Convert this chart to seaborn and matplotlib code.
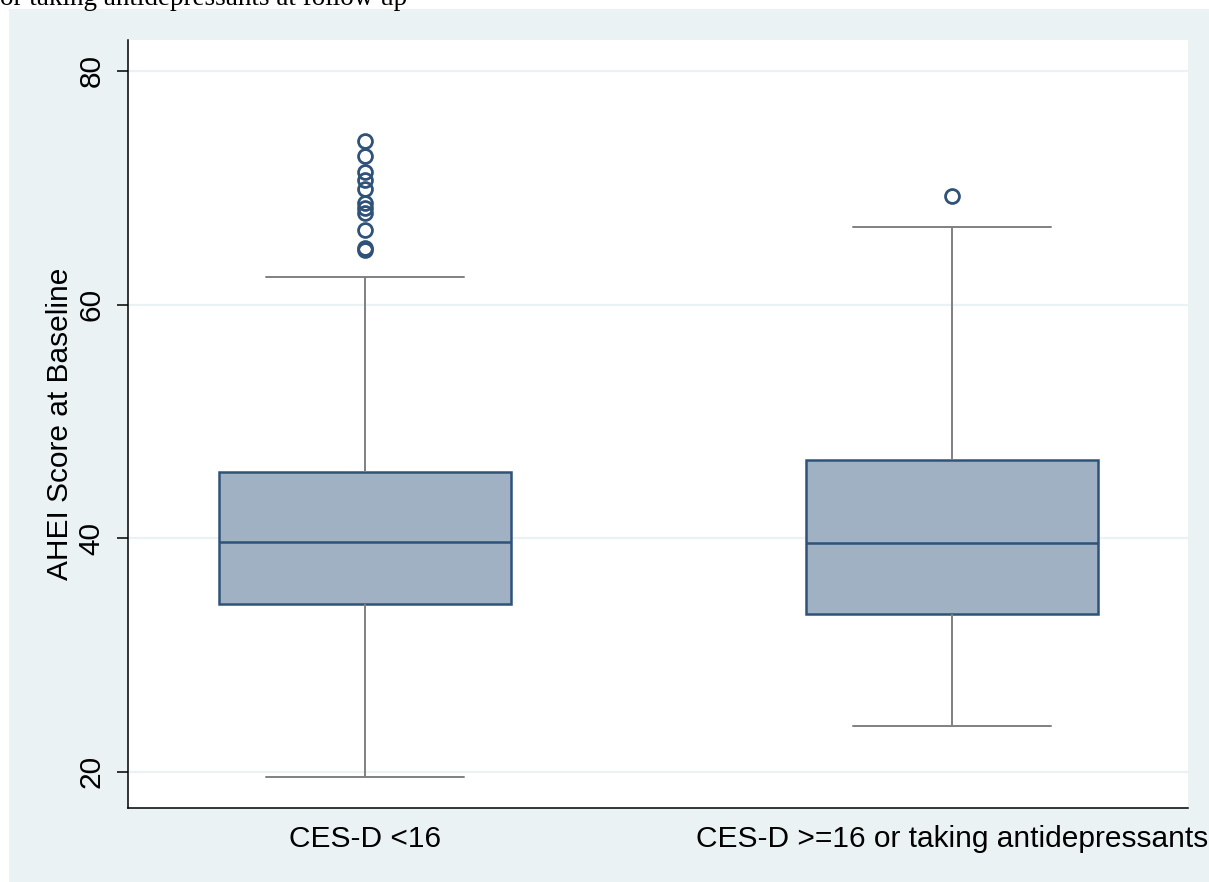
import numpy as np
import pandas as pd
import matplotlib
matplotlib.use("Agg")
import matplotlib.pyplot as plt
from matplotlib.patches import Rectangle
import seaborn as sns

# Groups and five-number summaries of the AHEI score
groups = ["CES-D <16", "CES-D >=16 or taking antidepressants"]
whisker_low = [19.57, 23.94]
q1 = [34.38, 33.53]
median = [39.69, 39.61]
q3 = [45.68, 46.71]
whisker_high = [62.38, 66.66]
outliers = [
    [74.02, 72.74, 71.37, 70.68, 69.91, 68.72, 68.29, 67.86, 66.40, 64.86, 64.69],
    [69.32],
]
y_ticks = [20, 40, 60, 80]
y_label = "AHEI Score at Baseline"
note = "or taking antidepressants at follow up"

# Long table whose quartiles and adjacent values reproduce each summary
rows = []
for g, lo, a, m, b, hi, out in zip(groups, whisker_low, q1, median, q3, whisker_high, outliers):
    vals = [lo] + [a] * 20 + [m] * 20 + [b] * 20 + [hi] + list(out)
    rows += [(g, v) for v in vals]
df = pd.DataFrame(rows, columns=["group", "ahei"])

sns.set_theme(style="white")
plt.rcParams["font.family"] = ["Liberation Sans", "DejaVu Sans"]
plt.rcParams["text.color"] = "black"
plt.rcParams["axes.labelcolor"] = "black"
plt.rcParams["xtick.color"] = "black"
plt.rcParams["ytick.color"] = "black"

navy = "#2F5279"
fill = "#A0B1C3"
grey = "#808080"
bg = "#EAF2F3"

fig = plt.figure(figsize=(12.09, 8.82), dpi=100)
fig.patch.set_facecolor("white")
W, H = 1209, 882
fig.patches.append(Rectangle((9 / W, 0), 1 - 9 / W, 1 - 9 / H, transform=fig.transFigure,
                             facecolor=bg, edgecolor="none", zorder=-10))
fig.text(0, 1 - 5 / H, note, family="Liberation Serif", fontsize=19.5, va="baseline", ha="left")

ax = fig.add_axes([128 / W, 74 / H, 1060 / W, 768 / H])
ax.set_facecolor("white")
for v in y_ticks:
    ax.axhline(v, color=bg, lw=1.6, zorder=0)

sns.boxplot(
    data=df, x="group", y="ahei", order=groups, ax=ax, width=0.497, whis=1.6,
    capwidths=0.337,
    boxprops=dict(facecolor=fill, edgecolor=navy, linewidth=1.8),
    medianprops=dict(color=navy, linewidth=1.8),
    whiskerprops=dict(color=grey, linewidth=1.4),
    capprops=dict(color=grey, linewidth=1.4),
    flierprops=dict(marker="o", markerfacecolor="none", markeredgecolor=navy,
                    markeredgewidth=2, markersize=10),
)

ax.set_xlim(-0.404, 1.402)
ax.set_ylim(16.9, 82.65)
ax.set_yticks(y_ticks)
ax.set_yticklabels([str(v) for v in y_ticks], rotation=90, va="center")
ax.tick_params(axis="y", length=8, width=1.1, color="black", pad=8, labelsize=21.5, left=True)
ax.tick_params(axis="x", length=0, pad=12, labelsize=21.5)
ax.set_xlabel("")
ax.set_ylabel(y_label, fontsize=21.5, labelpad=3)
for s in ["top", "right"]:
    ax.spines[s].set_visible(False)
for s in ["left", "bottom"]:
    ax.spines[s].set_color("black")
    ax.spines[s].set_linewidth(1.1)

fig.savefig("out.png", dpi=100, facecolor=fig.get_facecolor())
